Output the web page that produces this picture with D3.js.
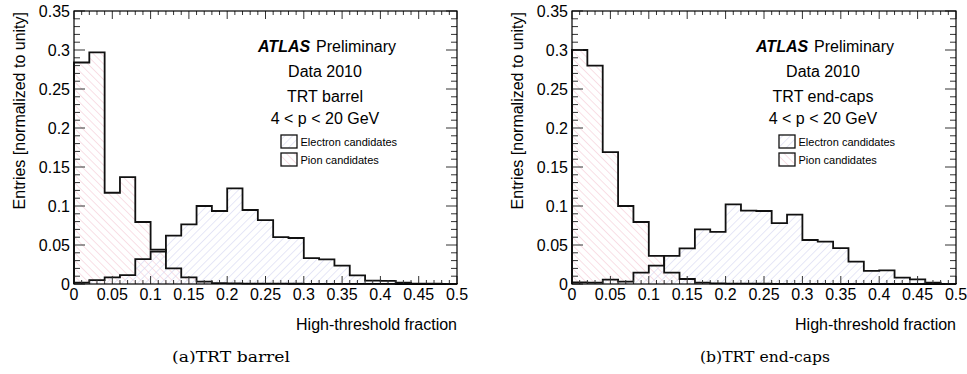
<!DOCTYPE html>
<html>
<head>
<meta charset="utf-8">
<script src="https://cdn.jsdelivr.net/npm/d3@7"></script>
<style>
  html, body { margin: 0; padding: 0; background: #fff; }
  svg { display: block; }
</style>
</head>
<body>
<svg id="chart" width="967" height="374"></svg>
<script>
// ---------------- data ----------------
const binLow = [0, 0.02, 0.04, 0.06, 0.08, 0.10, 0.12, 0.14, 0.16, 0.18, 0.20, 0.22, 0.24,
                0.26, 0.28, 0.30, 0.32, 0.34, 0.36, 0.38, 0.40, 0.42, 0.44, 0.46, 0.48];
const binHigh = 0.5;

// (a) TRT barrel
const barrelPion = [0.284, 0.297, 0.117, 0.137, 0.0795, 0.044, 0.020, 0.0086, 0.003, 0.0012,
                    0.0008, 0.0006, 0.0005, 0.0004, 0.0003, 0.0002, 0.0002, 0.0001, 0.0001, 0.0001,
                    0.0001, 0, 0, 0, 0];
const barrelElectron = [0.0017, 0.005, 0.0086, 0.0115, 0.032, 0.0414, 0.062, 0.0765, 0.100, 0.0936,
                        0.1226, 0.0949, 0.082, 0.060, 0.059, 0.0333, 0.0316, 0.0235, 0.011, 0.0043,
                        0.004, 0.0017, 0.0005, 0.0003, 0.0002];

// (b) TRT end-caps
const endcapPion = [0.300, 0.280, 0.169, 0.100, 0.0795, 0.036, 0.0145, 0.0064, 0.0017, 0.0007,
                    0.0005, 0.0004, 0.0003, 0.0002, 0.0002, 0.0001, 0.0001, 0, 0, 0,
                    0, 0, 0, 0, 0];
const endcapElectron = [0.002, 0.0017, 0.0055, 0.003, 0.0145, 0.0235, 0.036, 0.0457, 0.070, 0.0667,
                        0.102, 0.094, 0.0936, 0.078, 0.0889, 0.0564, 0.0543, 0.046, 0.0286, 0.0167,
                        0.0175, 0.0081, 0.006, 0.0017, 0.0002];

const xTickValues = [0, 0.05, 0.1, 0.15, 0.2, 0.25, 0.3, 0.35, 0.4, 0.45, 0.5];
const xTickLabels = ["0", "0.05", "0.1", "0.15", "0.2", "0.25", "0.3", "0.35", "0.4", "0.45", "0.5"];
const yTickValues = [0, 0.05, 0.1, 0.15, 0.2, 0.25, 0.3, 0.35];
const yTickLabels = ["0", "0.05", "0.1", "0.15", "0.2", "0.25", "0.3", "0.35"];

const xTitle = "High-threshold fraction";
const yTitle = "Entries [normalized to unity]";
const legendLabels = ["Electron candidates", "Pion candidates"];
const panelRegions = ["TRT barrel", "TRT end-caps"];
const panelCaptions = ["(a)TRT barrel", "(b)TRT end-caps"];

// ---------------- drawing ----------------
const svg = d3.select("#chart");
const FONT = "'Liberation Sans', Arial, Helvetica, sans-serif";

const defs = svg.append("defs");
function hatch(id, color, angle) {
  const p = defs.append("pattern")
    .attr("id", id)
    .attr("patternUnits", "userSpaceOnUse")
    .attr("width", 5.5).attr("height", 5.5)
    .attr("patternTransform", `rotate(${angle})`);
  p.append("line").attr("x1", 0).attr("y1", 0).attr("x2", 0).attr("y2", 5.5)
    .attr("stroke", color).attr("stroke-width", 1.1);
}
hatch("hatchPion", "#f3c6d1", -45);
hatch("hatchElectron", "#d2d3f0", 45);

const panels = [
  { left: 74, right: 457, pion: barrelPion, electron: barrelElectron, region: panelRegions[0], caption: panelCaptions[0], capX: 231, capW: 118 },
  { left: 572, right: 956, pion: endcapPion, electron: endcapElectron, region: panelRegions[1], caption: panelCaptions[1], capX: 765, capW: 130 }
];
const plotTop = 11, plotBottom = 284;

panels.forEach(P => {
  const g = svg.append("g");
  const x = d3.scaleLinear().domain([0, 0.5]).range([P.left, P.right]);
  const y = d3.scaleLinear().domain([0, 0.35]).range([plotBottom, plotTop]);

  function stepPoints(vals) {
    const pts = [[0, 0]];
    vals.forEach((v, i) => pts.push([binLow[i], v]));
    pts.push([binHigh, vals[vals.length - 1]]);
    pts.push([binHigh, 0]);
    return pts;
  }
  const line = d3.line().x(d => x(d[0])).y(d => y(d[1])).curve(d3.curveStepAfter);

  // fills
  [["pion", "url(#hatchPion)"], ["electron", "url(#hatchElectron)"]].forEach(([k, fill]) => {
    g.append("path").attr("d", line(stepPoints(P[k])) + "Z")
      .attr("fill", fill).attr("stroke", "none");
  });
  // outlines
  ["pion", "electron"].forEach(k => {
    g.append("path").attr("d", line(stepPoints(P[k])))
      .attr("fill", "none").attr("stroke", "#111").attr("stroke-width", 1.8)
      .attr("stroke-linejoin", "miter");
  });

  // ticks
  const tickCol = "#333";
  const xMinor = d3.range(0, 51).map(i => i / 100);
  xMinor.forEach(v => {
    const major = Math.abs(v * 20 - Math.round(v * 20)) < 1e-6;
    const len = major ? 8 : 4;
    g.append("line").attr("x1", x(v)).attr("x2", x(v)).attr("y1", plotBottom).attr("y2", plotBottom - len)
      .attr("stroke", tickCol).attr("stroke-width", 1);
    g.append("line").attr("x1", x(v)).attr("x2", x(v)).attr("y1", plotTop).attr("y2", plotTop + len)
      .attr("stroke", tickCol).attr("stroke-width", 1);
  });
  const yMinor = d3.range(0, 36).map(i => i / 100);
  yMinor.forEach(v => {
    const major = Math.abs(v * 20 - Math.round(v * 20)) < 1e-6;
    const len = major ? 11 : 6;
    g.append("line").attr("y1", y(v)).attr("y2", y(v)).attr("x1", P.left).attr("x2", P.left + len)
      .attr("stroke", tickCol).attr("stroke-width", 1);
    g.append("line").attr("y1", y(v)).attr("y2", y(v)).attr("x1", P.right).attr("x2", P.right - len)
      .attr("stroke", tickCol).attr("stroke-width", 1);
  });

  // frame
  g.append("rect").attr("x", P.left).attr("y", plotTop).attr("width", P.right - P.left).attr("height", plotBottom - plotTop)
    .attr("fill", "none").attr("stroke", "#000").attr("stroke-width", 1.2);

  // tick labels
  xTickValues.forEach((v, i) => {
    g.append("text").attr("x", x(v)).attr("y", 300).attr("text-anchor", "middle")
      .attr("font-family", FONT).attr("font-size", 16).attr("fill", "#000").text(xTickLabels[i]);
  });
  yTickValues.forEach((v, i) => {
    g.append("text").attr("x", P.left - 4).attr("y", y(v) + 5.5).attr("text-anchor", "end")
      .attr("font-family", FONT).attr("font-size", 16).attr("fill", "#000").text(yTickLabels[i]);
  });

  // axis titles
  g.append("text").attr("x", P.right).attr("y", 330).attr("text-anchor", "end")
    .attr("font-family", FONT).attr("font-size", 16).text(xTitle);
  g.append("text").attr("transform", `translate(${P.left - 49},${plotTop + 1}) rotate(-90)`)
    .attr("text-anchor", "end").attr("font-family", FONT).attr("font-size", 16).text(yTitle);

  // annotations
  const ax = P.left + 184;
  g.append("text").attr("x", ax).attr("y", 52).attr("font-family", FONT).attr("font-size", 16)
    .attr("font-weight", "bold").attr("font-style", "italic").text("ATLAS");
  g.append("text").attr("x", ax + 58).attr("y", 52).attr("font-family", FONT).attr("font-size", 16)
    .text("Preliminary");
  const cx = P.left + 251;
  g.append("text").attr("x", cx).attr("y", 77).attr("text-anchor", "middle").attr("font-family", FONT)
    .attr("font-size", 16).text("Data 2010");
  g.append("text").attr("x", cx).attr("y", 101.5).attr("text-anchor", "middle").attr("font-family", FONT)
    .attr("font-size", 16).text(P.region);
  g.append("text").attr("x", cx).attr("y", 124).attr("text-anchor", "middle").attr("font-family", FONT)
    .attr("font-size", 16).text("4 < p < 20 GeV");

  // legend
  const lx = P.left + 207;
  [["url(#hatchElectron)", 135], ["url(#hatchPion)", 153]].forEach(([fill, ly], i) => {
    g.append("rect").attr("x", lx).attr("y", ly).attr("width", 16).attr("height", 13)
      .attr("fill", "#fff").attr("stroke", "none");
    g.append("rect").attr("x", lx).attr("y", ly).attr("width", 16).attr("height", 13)
      .attr("fill", fill).attr("stroke", "#111").attr("stroke-width", 1.3);
    g.append("text").attr("x", lx + 19.5).attr("y", ly + 11).attr("font-family", FONT)
      .attr("font-size", 11).text(legendLabels[i]);
  });

  // caption
  svg.append("text").attr("x", P.capX).attr("y", 362).attr("text-anchor", "middle")
    .attr("font-family", "'DejaVu Serif', 'Liberation Serif', serif").attr("font-size", 15.5)
    .attr("textLength", P.capW).attr("lengthAdjust", "spacingAndGlyphs")
    .text(P.caption);
});
</script>
</body>
</html>
